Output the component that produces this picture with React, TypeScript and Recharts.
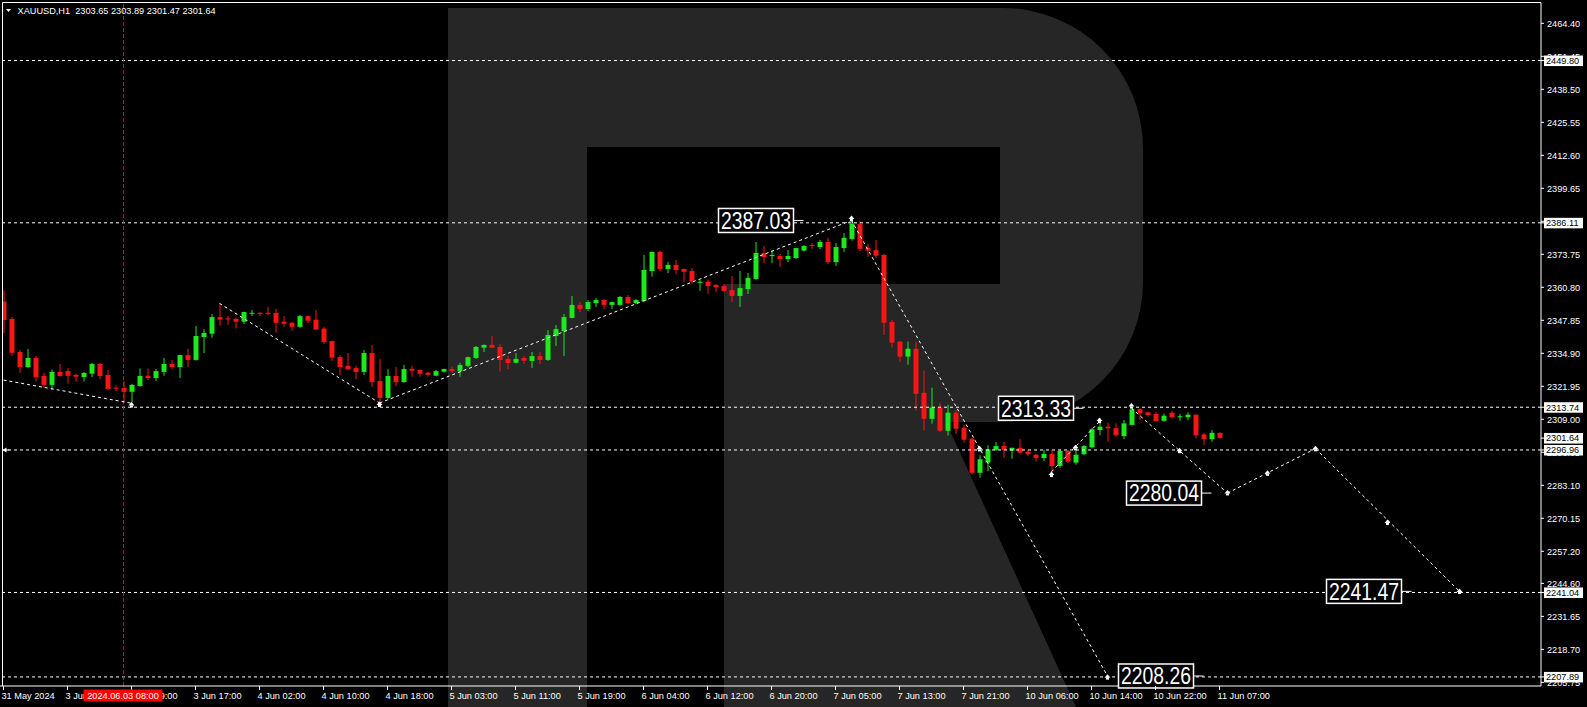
import { ComposedChart, Bar, XAxis, YAxis, ReferenceLine, ReferenceDot } from "recharts";

// XAUUSD H1 candles, 31 May 16:00 .. 11 Jun 07:00
const opens = [
  2355.2, 2348.4, 2335.4, 2329.5, 2333.1, 2326.0, 2322.5, 2327.6, 2327.9, 2326.4,
  2325.6, 2326.9, 2330.7, 2326.4, 2321.4, 2321.3, 2319.8, 2322.1, 2326.1, 2325.2,
  2327.6, 2330.7, 2329.5, 2334.2, 2332.3, 2341.3, 2342.6, 2349.1, 2348.6, 2348.4,
  2347.3, 2350.5, 2350.8, 2350.8, 2350.7, 2347.3, 2346.9, 2345.3, 2349.5, 2348.1,
  2344.6, 2339.7, 2333.4, 2330.0, 2329.1, 2327.6, 2335.0, 2324.0, 2317.4, 2326.0,
  2323.6, 2328.8, 2328.4, 2327.3, 2326.1, 2327.7, 2328.7, 2327.8, 2330.0, 2333.1,
  2337.1, 2338.2, 2337.4, 2332.7, 2331.2, 2333.1, 2331.9, 2333.8, 2332.3, 2341.7,
  2343.6, 2348.8, 2353.9, 2352.3, 2354.6, 2355.8, 2353.9, 2353.9, 2357.0, 2354.6,
  2355.4, 2367.2, 2374.7, 2368.0, 2369.6, 2368.0, 2367.2, 2362.6, 2363.0, 2361.7,
  2361.3, 2359.7, 2357.4, 2360.1, 2364.1, 2374.3, 2373.1, 2373.1, 2371.9, 2372.3,
  2375.2, 2377.4, 2376.6, 2378.6, 2370.7, 2376.2, 2379.8, 2385.6, 2376.3, 2375.4,
  2373.5, 2347.2, 2339.5, 2333.6, 2336.7, 2319.4, 2309.2, 2313.6, 2304.5, 2311.6,
  2305.7, 2301.4, 2288.0, 2292.0, 2297.0, 2298.5, 2296.7, 2297.8, 2296.3, 2295.1,
  2293.8, 2295.4, 2290.7, 2296.6, 2292.0, 2295.3, 2298.0, 2304.8, 2306.1, 2305.5,
  2302.4, 2306.8, 2313.0, 2311.7, 2311.1, 2308.4, 2311.6, 2309.8, 2309.8, 2310.8,
  2303.1, 2301.2, 2303.65,
];
const highs = [
  2359.7, 2349.2, 2336.2, 2336.6, 2333.8, 2327.2, 2328.6, 2330.7, 2329.1, 2326.9,
  2327.6, 2331.1, 2331.1, 2328.4, 2322.3, 2323.9, 2322.9, 2328.9, 2328.9, 2328.7,
  2333.1, 2332.3, 2334.4, 2336.6, 2345.6, 2344.4, 2350.3, 2354.5, 2349.5, 2348.9,
  2351.2, 2351.9, 2351.1, 2353.1, 2352.3, 2349.5, 2347.2, 2349.9, 2349.7, 2351.9,
  2345.3, 2339.9, 2334.2, 2335.0, 2330.0, 2336.2, 2338.1, 2332.7, 2328.7, 2329.5,
  2330.3, 2330.0, 2328.5, 2327.6, 2328.4, 2328.9, 2329.6, 2331.2, 2333.6, 2337.8,
  2338.3, 2341.7, 2338.5, 2333.8, 2335.0, 2333.8, 2335.4, 2335.4, 2344.0, 2346.0,
  2350.3, 2357.4, 2355.0, 2355.8, 2356.6, 2356.2, 2355.1, 2357.4, 2357.8, 2356.2,
  2373.5, 2374.8, 2375.1, 2370.7, 2371.5, 2368.1, 2368.4, 2363.7, 2363.8, 2362.1,
  2362.1, 2365.2, 2367.2, 2366.4, 2378.6, 2377.0, 2375.4, 2373.9, 2375.4, 2376.3,
  2377.4, 2378.2, 2379.4, 2380.2, 2378.2, 2382.1, 2387.03, 2386.8, 2377.8, 2379.4,
  2373.9, 2348.0, 2339.6, 2339.5, 2339.5, 2328.1, 2321.4, 2315.5, 2314.7, 2312.8,
  2306.9, 2301.6, 2294.9, 2298.8, 2300.0, 2300.2, 2297.9, 2301.2, 2297.0, 2295.4,
  2297.0, 2297.0, 2297.0, 2297.0, 2297.0, 2298.9, 2305.5, 2308.1, 2307.7, 2307.4,
  2308.7, 2313.33, 2313.3, 2312.0, 2312.0, 2311.3, 2312.3, 2311.1, 2311.7, 2310.9,
  2303.7, 2304.8, 2303.89,
];
const lows = [
  2342.8, 2334.0, 2327.3, 2329.2, 2323.8, 2321.4, 2320.5, 2325.7, 2323.0, 2323.8,
  2323.8, 2325.6, 2324.8, 2320.5, 2320.0, 2315.8, 2315.5, 2321.8, 2324.4, 2324.1,
  2326.1, 2328.7, 2325.2, 2329.5, 2332.0, 2335.0, 2341.0, 2345.7, 2346.0, 2344.6,
  2346.4, 2349.5, 2349.5, 2349.8, 2343.0, 2345.3, 2343.8, 2344.9, 2346.8, 2344.0,
  2338.5, 2331.9, 2326.4, 2328.4, 2324.8, 2326.4, 2321.7, 2315.4, 2317.0, 2322.1,
  2323.4, 2325.7, 2325.7, 2325.7, 2325.9, 2327.3, 2327.3, 2325.7, 2329.5, 2332.7,
  2335.4, 2337.0, 2327.7, 2328.7, 2331.0, 2330.8, 2329.2, 2330.7, 2331.9, 2337.8,
  2333.8, 2348.6, 2351.1, 2351.5, 2353.1, 2352.3, 2352.3, 2353.5, 2354.2, 2354.2,
  2355.0, 2365.0, 2367.2, 2366.4, 2366.0, 2363.0, 2362.1, 2359.4, 2358.2, 2358.9,
  2358.9, 2355.0, 2353.1, 2358.2, 2363.7, 2370.3, 2370.3, 2368.8, 2370.7, 2371.9,
  2374.9, 2375.8, 2375.8, 2369.9, 2369.2, 2374.7, 2379.1, 2375.0, 2372.8, 2372.3,
  2342.1, 2337.1, 2331.5, 2330.4, 2312.4, 2304.5, 2307.3, 2304.1, 2302.6, 2303.3,
  2299.8, 2287.3, 2286.1, 2288.7, 2296.6, 2293.9, 2293.5, 2295.3, 2294.6, 2292.4,
  2292.6, 2288.4, 2290.0, 2292.0, 2291.2, 2294.9, 2297.6, 2302.8, 2300.2, 2302.2,
  2301.2, 2306.6, 2308.7, 2310.0, 2308.1, 2308.1, 2309.4, 2308.4, 2308.7, 2301.5,
  2298.9, 2300.2, 2301.47,
];
const closes = [
  2348.0, 2335.1, 2329.5, 2333.1, 2325.6, 2322.5, 2327.6, 2326.0, 2326.1, 2325.7,
  2327.2, 2330.7, 2326.0, 2320.9, 2321.1, 2319.8, 2322.5, 2326.0, 2325.2, 2327.9,
  2330.7, 2329.5, 2334.2, 2332.3, 2341.7, 2342.9, 2349.1, 2348.1, 2348.2, 2347.3,
  2351.1, 2350.8, 2350.4, 2350.4, 2346.9, 2346.5, 2345.3, 2349.5, 2347.7, 2344.2,
  2339.3, 2333.2, 2329.5, 2328.6, 2327.6, 2335.0, 2323.6, 2317.4, 2326.0, 2323.6,
  2328.7, 2328.1, 2326.9, 2326.5, 2327.9, 2328.7, 2327.9, 2330.3, 2333.4, 2337.4,
  2338.2, 2337.1, 2332.3, 2331.1, 2332.7, 2332.0, 2333.8, 2332.3, 2342.1, 2344.4,
  2349.1, 2353.9, 2352.3, 2355.0, 2355.8, 2353.9, 2355.0, 2357.0, 2354.6, 2355.8,
  2367.6, 2374.7, 2368.0, 2369.6, 2367.6, 2366.9, 2363.0, 2363.0, 2361.3, 2360.8,
  2359.4, 2357.4, 2360.5, 2364.5, 2374.3, 2372.7, 2373.5, 2371.9, 2373.1, 2376.2,
  2377.0, 2377.0, 2378.6, 2370.7, 2376.6, 2380.2, 2385.8, 2375.9, 2375.2, 2373.2,
  2346.9, 2339.1, 2333.6, 2336.7, 2319.0, 2309.2, 2313.6, 2304.5, 2311.6, 2305.3,
  2301.0, 2288.0, 2293.3, 2297.2, 2298.5, 2297.0, 2297.8, 2295.9, 2295.3, 2293.8,
  2295.4, 2290.7, 2296.6, 2292.4, 2295.1, 2298.5, 2305.1, 2306.1, 2305.5, 2302.7,
  2307.4, 2312.9, 2311.3, 2310.7, 2308.3, 2310.4, 2309.8, 2310.2, 2310.8, 2302.7,
  2301.2, 2303.7, 2301.64,
];

const SLOTS = 193; // bar slots up to the price scale (future ones empty)

const timeTickIdx = [0, 8, 16, 24, 32, 40, 48, 56, 64, 72, 80, 88, 96, 104, 112, 120, 128, 136, 144, 152];
const timeTickText = [
  "31 May 2024", "3 Jun 01:00", "3 Jun 09:00", "3 Jun 17:00", "4 Jun 02:00", "4 Jun 10:00",
  "4 Jun 18:00", "5 Jun 03:00", "5 Jun 11:00", "5 Jun 19:00", "6 Jun 04:00", "6 Jun 12:00",
  "6 Jun 20:00", "7 Jun 05:00", "7 Jun 13:00", "7 Jun 21:00", "10 Jun 06:00", "10 Jun 14:00",
  "10 Jun 22:00", "11 Jun 07:00",
];

const priceTicks = [
  2205.75, 2218.7, 2231.65, 2244.6, 2257.2, 2270.15, 2283.1, 2296.05, 2309.0, 2321.95,
  2334.9, 2347.85, 2360.8, 2373.75, 2386.7, 2399.65, 2412.6, 2425.55, 2438.5, 2451.45, 2464.4,
];

const levelLines = [2449.8, 2386.11, 2313.74, 2296.96, 2241.04, 2207.89];
const bidPrice = 2301.64;

// forecast / zigzag segments: [fromIdx, fromPrice, toIdx, toPrice]
const zigzag: [number, number, number, number][] = [
  [0, 2324.4, 16, 2315.3],
  [27, 2354.5, 47, 2315.4],
  [47, 2315.4, 106, 2387.03],
  [106, 2387.03, 138, 2208.26],
  [131, 2288.4, 137, 2308.1],
  [141, 2313.33, 153, 2280.04],
  [153, 2280.04, 164, 2297.5],
  [164, 2297.5, 182, 2241.47],
];

// small arrow marks along the zigzag
const arrowMarks: [number, number][] = [
  [16, 2314.8], [47, 2315.0], [106, 2388.0], [122, 2297.6], [131, 2287.5],
  [134, 2298.0], [137, 2308.7], [141, 2314.4], [147, 2296.9], [153, 2280.3],
  [158, 2288.0], [164, 2297.6], [173, 2268.7], [182, 2241.6], [138, 2208.0],
];

// big price tags: [anchorIdx, price]
const priceTags: [number, number][] = [
  [100, 2387.03], [135, 2313.33], [151, 2280.04], [150, 2208.26], [176, 2241.47],
];

const cursorIdx = 15;
const cursorText = "2024.06.03 08:00";
const title = "XAUUSD,H1  2303.65 2303.89 2301.47 2301.64";

const UP = "#1cea1c";
const DOWN = "#f81515";
const FONT = "'Liberation Sans', Arial, sans-serif";
const Y_DOMAIN: [number, number] = [2204.33, 2472.58];
const PLOT_RIGHT = 1541;
const PLOT_BOTTOM = 686;
const MARGIN = { top: 2.5, right: 0, bottom: 0, left: 0 };
const X_PAD = { left: -0.5, right: -2.5 };

const data = Array.from({ length: SLOTS }, (_, i) =>
  i < opens.length
    ? { i, o: opens[i], h: highs[i], l: lows[i], c: closes[i], range: [lows[i], highs[i]] }
    : { i }
);

function Candle(props: any) {
  const { x, y, width, height, payload } = props;
  if (!payload || payload.o == null) return null;
  const { o, h, l, c } = payload;
  const top = Math.min(y, y + height);
  const k = h - l > 0 ? Math.abs(height) / (h - l) : 0;
  const py = (p: number) => top + (h - p) * k;
  const cx = x + width / 2;
  const col = c >= o ? UP : DOWN;
  const bt = py(Math.max(o, c));
  let bb = py(Math.min(o, c));
  if (bb - bt < 1) bb = bt + 1;
  const left = Math.max(cx - 2.5, 3);
  return (
    <g>
      <line x1={cx} x2={cx} y1={py(h)} y2={py(l)} stroke={col} strokeWidth={1} />
      <rect x={left} y={bt} width={cx + 2.5 - left} height={bb - bt} fill={col} />
    </g>
  );
}

function Blank() {
  return <g />;
}

function TimeTick(props: any) {
  const { x, payload } = props;
  const k = timeTickIdx.indexOf(payload.value);
  const y = PLOT_BOTTOM;
  return (
    <g>
      <line x1={x} x2={x} y1={y} y2={y + 4} stroke="#fff" />
      <text x={x - 2} y={y + 12.7} fill="#fff" fontSize={9.2} fontFamily={FONT}>
        {k >= 0 ? timeTickText[k] : ""}
      </text>
    </g>
  );
}

function PriceTick(props: any) {
  const { y, payload } = props;
  const x = PLOT_RIGHT;
  return (
    <g>
      <line x1={x} x2={x + 3} y1={y} y2={y} stroke="#fff" />
      <text x={x + 6} y={y + 3.3} fill="#fff" fontSize={9.2} fontFamily={FONT}>
        {Number(payload.value).toFixed(2)}
      </text>
    </g>
  );
}

function levelBox(value: number) {
  return (props: any) => {
    const vb = props.viewBox || {};
    const x = vb.x + vb.width + 3;
    const y = vb.y;
    return (
      <g>
        <line x1={x - 3} x2={x} y1={y} y2={y} stroke="#fff" />
        <rect x={x} y={y - 5} width={39} height={10.5} fill="#fff" />
        <text x={x + 2} y={y + 3.4} fill="#000" fontSize={9.2} fontFamily={FONT}>
          {value.toFixed(2)}
        </text>
      </g>
    );
  };
}

function CursorLabel(props: any) {
  const vb = props.viewBox || {};
  const x = vb.x;
  const bottom = vb.y + vb.height;
  return (
    <g>
      <rect x={x - 40} y={bottom + 3.5} width={79} height={12} fill="#ff0000" />
      <text x={x - 0.5} y={bottom + 12.8} textAnchor="middle" fill="#fff" fontSize={9.2} fontFamily={FONT}>
        {cursorText}
      </text>
    </g>
  );
}

function ArrowMark(props: any) {
  const { cx, cy } = props;
  return (
    <g fill="#fff">
      <path d={`M${cx - 3} ${cy + 1} L${cx} ${cy - 2.5} L${cx + 3} ${cy + 1} Z`} />
      <rect x={cx - 1.5} y={cy + 1} width={3} height={2} />
    </g>
  );
}

function EndArrow(props: any) {
  const { cx, cy } = props;
  return (
    <path d={`M${cx - 1} ${cy} L${cx + 3} ${cy - 2.5} L${cx + 3} ${cy + 2.5} Z M${cx + 3} ${cy - 0.5} h3 v1 h-3 Z`} fill="#fff" />
  );
}

function tagShape(value: number) {
  return (props: any) => {
    const { cx, cy } = props;
    return (
      <g>
        <line x1={cx - 10} x2={cx} y1={cy} y2={cy} stroke="#fff" />
        <rect x={cx - 85} y={cy - 12} width={75} height={24} fill="#000" stroke="#fff" strokeWidth={1.5} />
        <text
          x={cx - 47.5}
          y={cy + 8.4}
          textAnchor="middle"
          textLength={70}
          lengthAdjust="spacingAndGlyphs"
          fontSize={23}
          fill="#fff"
          fontFamily={FONT}
        >
          {value.toFixed(2)}
        </text>
      </g>
    );
  };
}

export default function App() {
  return (
    <div style={{ position: "relative", width: 1587, height: 707, background: "#000", overflow: "hidden" }}>
      <style>{"body{margin:0;background:#000}"}</style>
      {/* broker watermark */}
      <svg width={1587} height={707} style={{ position: "absolute", left: 0, top: 0 }}>
        <rect x={448} y={8} width={139} height={699} fill="#262626" />
        <path
          d="M587 8 L1003 8 A140 140 0 0 1 1143 148 L1143 282 A140 140 0 0 1 1003 422 L946 422 L1076 707 L724 707 L724 284 L1000 284 L1000 147 L587 147 Z"
          fill="#262626"
        />
      </svg>
      <div style={{ position: "absolute", left: 0, top: 0 }}>
        <ComposedChart width={1587} height={707} data={data} margin={MARGIN}>
          <XAxis
            dataKey="i"
            type="category"
            height={21}
            padding={X_PAD}
            ticks={timeTickIdx}
            interval={0}
            tickLine={false}
            tickSize={0}
            tickMargin={0}
            axisLine={{ stroke: "#fff" }}
            tick={<TimeTick />}
          />
          <YAxis
            orientation="right"
            type="number"
            width={46}
            domain={Y_DOMAIN}
            ticks={priceTicks}
            interval={0}
            tickLine={false}
            tickSize={0}
            tickMargin={0}
            axisLine={{ stroke: "#fff" }}
            tick={<PriceTick />}
          />
          <Bar dataKey="range" barSize={5} shape={<Candle />} isAnimationActive={false} />
          {levelLines.map((p) => (
            <ReferenceLine key={p} y={p} stroke="#fff" strokeDasharray="3 3" />
          ))}
          <ReferenceLine x={cursorIdx} stroke="#ff0000" strokeDasharray="4 2" />
          {zigzag.map(([a, pa, b, pb], k) => (
            <ReferenceLine
              key={`z${k}`}
              segment={[{ x: a, y: pa }, { x: b, y: pb }]}
              stroke="#fff"
              strokeDasharray="3 3"
            />
          ))}
          {arrowMarks.map(([a, p], k) => (
            <ReferenceDot key={`m${k}`} x={a} y={p} r={3} shape={(pr: any) => <ArrowMark {...pr} />} />
          ))}
          <ReferenceDot x={0} y={2296.96} r={3} shape={(pr: any) => <EndArrow {...pr} />} />
          {priceTags.map(([a, p]) => (
            <ReferenceDot key={`t${p}`} x={a} y={p} r={3} shape={tagShape(p)} />
          ))}
        </ComposedChart>
      </div>
      {/* same scales again, on top of the axis texts: price boxes and cursor time box */}
      <div style={{ position: "absolute", left: 0, top: 0 }}>
        <ComposedChart width={1587} height={707} data={data} margin={MARGIN}>
          <XAxis dataKey="i" type="category" height={21} padding={X_PAD} tick={false} tickLine={false} axisLine={false} />
          <YAxis
            orientation="right"
            type="number"
            width={46}
            domain={Y_DOMAIN}
            tick={false}
            tickLine={false}
            axisLine={false}
          />
          <Bar dataKey="range" barSize={5} shape={<Blank />} isAnimationActive={false} />
          {[...levelLines, bidPrice].map((p) => (
            <ReferenceLine key={`b${p}`} y={p} stroke="#fff" strokeOpacity={0} label={levelBox(p)} />
          ))}
          <ReferenceLine
            x={cursorIdx}
            stroke="#ff0000"
            strokeOpacity={0}
            label={(p: any) => <CursorLabel {...p} />}
          />
        </ComposedChart>
      </div>
      {/* frame top/left and symbol caption */}
      <svg width={1587} height={707} style={{ position: "absolute", left: 0, top: 0, pointerEvents: "none" }}>
        <line x1={2.5} x2={PLOT_RIGHT} y1={2.5} y2={2.5} stroke="#fff" />
        <line x1={2.5} x2={2.5} y1={2.5} y2={PLOT_BOTTOM} stroke="#fff" />
        <polygon points="6,9 11,9 8.5,12" fill="#fff" />
        <text x={17.5} y={13.5} fill="#fff" fontSize={9.2} fontFamily={FONT} style={{ whiteSpace: "pre" }}>
          {title}
        </text>
      </svg>
    </div>
  );
}
